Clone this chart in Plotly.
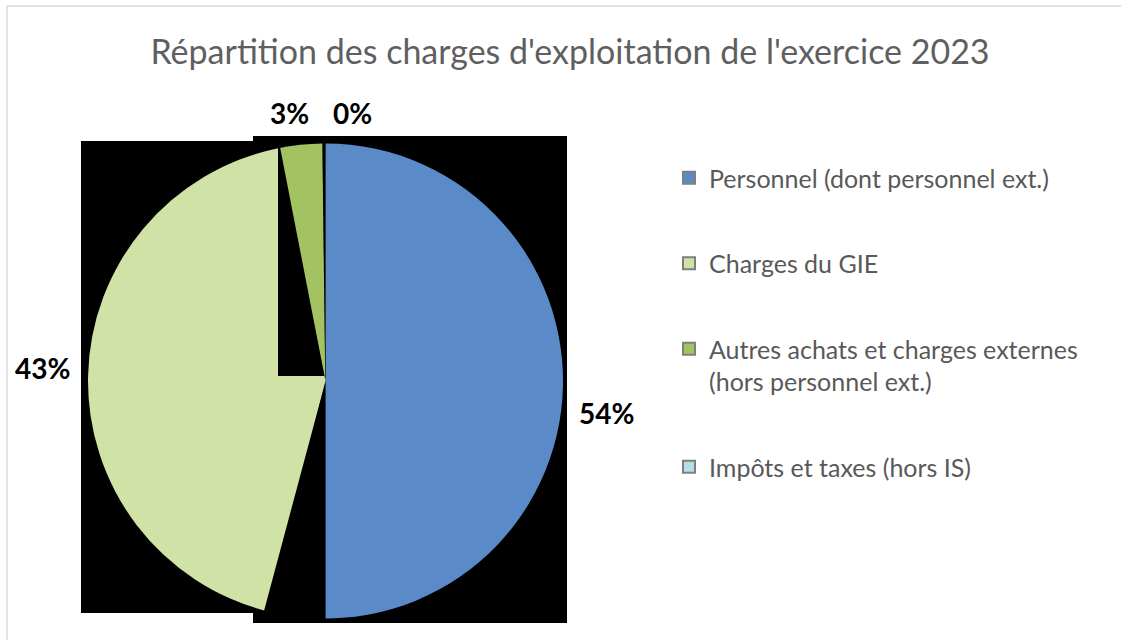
import plotly.graph_objects as go

# ---- data ----
categories = [
    "Personnel (dont personnel ext.)",
    "Charges du GIE",
    "Autres achats et charges externes<br>(hors personnel ext.)",
    "Impôts et taxes (hors IS)",
]
shares = [54, 43, 3, 0.2]
colors = ["#5A8AC8", "#D1E2A7", "#A3C262", "#B7DEE8"]
title_text = "Répartition des charges d'exploitation de l'exercice 2023"

W, H = 1121, 640


def px(x):
    return x / W


def py(y):
    return 1 - y / H


fig = go.Figure()

fig.add_trace(go.Pie(
    labels=categories,
    values=shares,
    sort=False,
    direction="clockwise",
    rotation=0,
    marker=dict(colors=colors, line=dict(width=0)),
    textinfo="none",
    domain=dict(x=[px(88), px(563)], y=[py(619), py(143)]),
    showlegend=False,
    hoverinfo="label+percent",
))

# legend entries (one per category, same colours)
for i, (cat, col) in enumerate(zip(categories, colors)):
    fig.add_trace(go.Scatter(
        x=[None], y=[None], mode="markers",
        marker=dict(symbol="square", size=14, color=col,
                    line=dict(color="#7F7F7F", width=0.5)),
        name=cat, legendgroup=f"g{i}", showlegend=True,
    ))

# percentage labels computed from the data
total = sum(shares)
pct_text = [f"{round(v / total * 100)}%" for v in shares]
label_pos = [(606, 413), (42, 368), (289, 113), (352, 113)]
annotations = [
    dict(text=t, x=px(x), y=py(y), xref="paper", yref="paper",
         showarrow=False, xanchor="center", yanchor="middle",
         font=dict(family="Lato, sans-serif", size=28, color="#000000", weight="bold"))
    for t, (x, y) in zip(pct_text, label_pos)
]

border = dict(color="#D9D9D9", width=1.5)
shapes = [
    # outer chart border (left and top edges are visible)
    dict(type="line", xref="paper", yref="paper", x0=px(7), x1=px(7), y0=0, y1=py(6),
         line=border, layer="below"),
    dict(type="line", xref="paper", yref="paper", x0=px(7), x1=1, y0=py(6), y1=py(6),
         line=border, layer="below"),
    # black rendering background behind pie
    dict(type="rect", xref="paper", yref="paper",
         x0=px(81), x1=px(253), y0=py(613), y1=py(141),
         line=dict(width=0), fillcolor="#000000", layer="below"),
    dict(type="rect", xref="paper", yref="paper",
         x0=px(253), x1=px(567), y0=py(623), y1=py(136),
         line=dict(width=0), fillcolor="#000000", layer="below"),
]


def poly(points):
    d = "M " + " L ".join(f"{px(x):.5f},{py(y):.5f}" for x, y in points) + " Z"
    return dict(type="path", xref="paper", yref="paper", path=d,
                line=dict(width=0), fillcolor="#000000", layer="above")


shapes.append(poly([(278, 141), (280, 141), (280.1, 147.4), (324.5, 376), (278, 376)]))
shapes.append(poly([(322.3, 141), (325.6, 141), (325.6, 378), (325.2, 378)]))
shapes.append(poly([(325.6, 376), (325.6, 623), (264, 623), (264, 611), (325.6, 381)]))

fig.update_layout(
    width=W, height=H,
    margin=dict(l=0, r=0, t=0, b=0),
    paper_bgcolor="#FFFFFF",
    plot_bgcolor="#FFFFFF",
    font=dict(family="Lato, sans-serif", color="#595959"),
    title=dict(text=title_text, x=px(570), xanchor="center", y=py(52), yanchor="middle",
               font=dict(family="Lato, sans-serif", size=34, color="#5F5F5F")),
    xaxis=dict(visible=False, domain=[0.99, 1]),
    yaxis=dict(visible=False, domain=[0.99, 1]),
    legend=dict(x=px(669), xanchor="left", y=py(155), yanchor="top",
                font=dict(family="Lato, sans-serif", size=25, color="#595959"),
                tracegroupgap=50, valign="top", itemsizing="constant",
                bgcolor="rgba(0,0,0,0)"),
    annotations=annotations,
    shapes=shapes,
)

fig.write_html("out.html", config={"displayModeBar": False},
               post_script="document.body.style.margin='0';")
